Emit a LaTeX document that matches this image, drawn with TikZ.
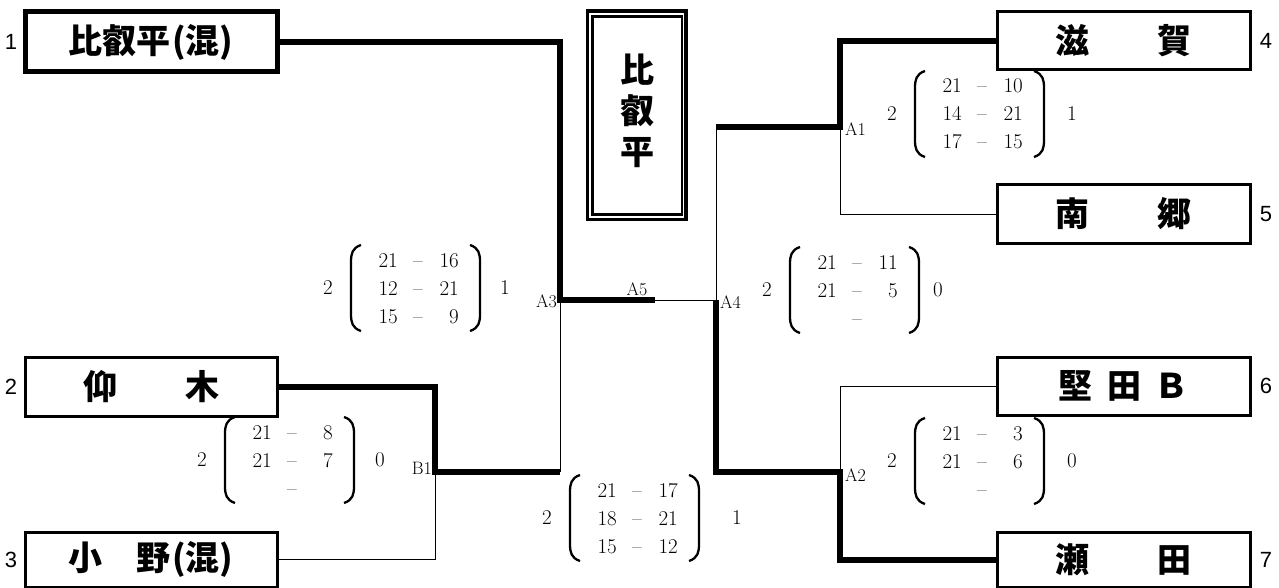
\documentclass[tikz,border=0pt]{standalone}
\usepackage{fontspec}
\setmainfont{Latin Modern Roman}
\newfontfamily\cjk{Noto Sans CJK JP}
\newfontfamily\sansnum{Liberation Sans}
\usetikzlibrary{calc}
\tikzset{
 team/.style={draw, line width=3pt, minimum width=252pt, inner sep=0pt, font=\cjk\bfseries\fontsize{34}{40}\selectfont},
 thickln/.style={line width=6pt},
 thinln/.style={line width=1pt},
 sc/.style={font=\fontsize{21}{24}\selectfont, inner sep=0pt},
 lbl/.style={font=\fontsize{18}{20}\selectfont, inner sep=0pt},
 seed/.style={font=\sansnum\fontsize{22}{24}\selectfont, inner sep=0pt},
 paren/.style={line width=2.3pt},
}
\newcommand\scorebox[7]{%
 \node[sc] (#1L) at (#2,#3) {#4};
 \node[sc] (#1R) at (#5,#3) {#6};
 \foreach \p/\q [count=\i] in {#7} {
  \node[sc, anchor=base east] (#1a\i) at ({#2+70},{#3+(\i-2)*28+7}) {\p};
  \node[sc, anchor=base] (#1d\i) at ({#2+90},{#3+(\i-2)*28+7}) {\textendash};
  \node[sc, anchor=base east] (#1b\i) at ({#2+131},{#3+(\i-2)*28+7}) {\q};
 }
 \draw[paren] ({#2+33},{#3-43}) .. controls ({#2+24},{#3-40}) and ({#2+23},{#3-34}) .. ({#2+23},{#3-26}) -- ({#2+23},{#3+26}) .. controls ({#2+23},{#3+34}) and ({#2+24},{#3+40}) .. ({#2+33},{#3+43});
 \draw[paren] ({#2+142},{#3-43}) .. controls ({#2+151},{#3-40}) and ({#2+152},{#3-34}) .. ({#2+152},{#3-26}) -- ({#2+152},{#3+26}) .. controls ({#2+152},{#3+34}) and ({#2+151},{#3+40}) .. ({#2+142},{#3+43});
}
\begin{document}
\begin{tikzpicture}[x=1pt,y=-1pt]
\useasboundingbox (0,0) rectangle (1279,588);
% teams
\node[team, line width=5pt, minimum height=60pt] (t1) at (151,42) {比叡平\kern2pt(混)};
\node[team, minimum height=59pt] (t2) at (151,386.5) {仰　　木};
\node[team, minimum height=55pt] (t3) at (151,559.5) {小　野\kern2pt(混)};
\node[team, minimum width=253pt, minimum height=58pt] (t4) at (1123.5,41) {滋　　賀};
\node[team, minimum width=253pt, minimum height=58pt] (t5) at (1123.5,214) {南　　郷};
\node[team, minimum width=253pt, minimum height=58pt] (t6) at (1123.5,386) {堅\hspace{.45em}田\hspace{.4em}Ｂ};
\node[team, minimum width=253pt, minimum height=55pt] (t7) at (1123.5,559.5) {瀬　　田};
% seeds
\node[seed] (s1) at (11,42) {1};
\node[seed] (s2) at (11,387) {2};
\node[seed] (s3) at (11,560) {3};
\node[seed] (s4) at (1266,41) {4};
\node[seed] (s5) at (1266,214) {5};
\node[seed] (s6) at (1266,386) {6};
\node[seed] (s7) at (1266,560) {7};
% title
\draw[line width=3.5pt] (587.5,11) rectangle (686,219.5);
\draw[line width=2.5pt] (592.5,16.5) rectangle (682,214.5);
\node[font=\cjk\bfseries\fontsize{34}{41}\selectfont, align=center] (title) at (637,111) {比\\叡\\平};
% junctions
\coordinate (A3) at (560,300);
\coordinate (A5) at (655,300);
\coordinate (A4) at (716,300);
\coordinate (B1) at (435,472);
\coordinate (A3b) at (560,472);
\coordinate (A1) at (840,127);
\coordinate (A4t) at (716,127);
\coordinate (A2) at (840,472);
\coordinate (A4b) at (716,472);
% connectors
\draw[thickln] (t1.east) -| (A3) -- (A5);
\draw[thinln] (A5) -- (A4);
\draw[thinln] (A3) -- (A3b);
\draw[thickln] (t2.east) -| (B1) -- (A3b);
\draw[thinln] (t3.east) -| (B1);
\draw[thickln] (t4.west) -| (A1) -- (A4t);
\draw[thinln] (A4t) -- (A4);
\draw[thinln] (t5.west) -| (A1);
\draw[thickln] (t7.west) -| (A2) -- (A4b) -- (A4);
\draw[thinln] (t6.west) -| (A2);
% match labels
\node[lbl, anchor=west] (lA1) at (845,129) {A1};
\node[lbl, anchor=west] (lA2) at (845,475) {A2};
\node[lbl, anchor=east] (lA3) at (557,301) {A3};
\node[lbl, anchor=west] (lA4) at (720,302) {A4};
\node[lbl] (lA5) at (637,289) {A5};
\node[lbl, anchor=east] (lB1) at (432,468) {B1};
% scores
\scorebox{sA3}{328}{288}{2}{505}{1}{21/16,12/21,15/9}
\scorebox{sB1}{202}{460}{2}{380}{0}{21/8,21/7,{}/{}}
\scorebox{sA5}{547}{518}{2}{737}{1}{21/17,18/21,15/12}
\scorebox{sA1}{892}{114}{2}{1072}{1}{21/10,14/21,17/15}
\scorebox{sA4}{767}{290}{2}{938}{0}{21/11,21/5,{}/{}}
\scorebox{sA2}{892}{461}{2}{1072}{0}{21/3,21/6,{}/{}}
\end{tikzpicture}
\end{document}
